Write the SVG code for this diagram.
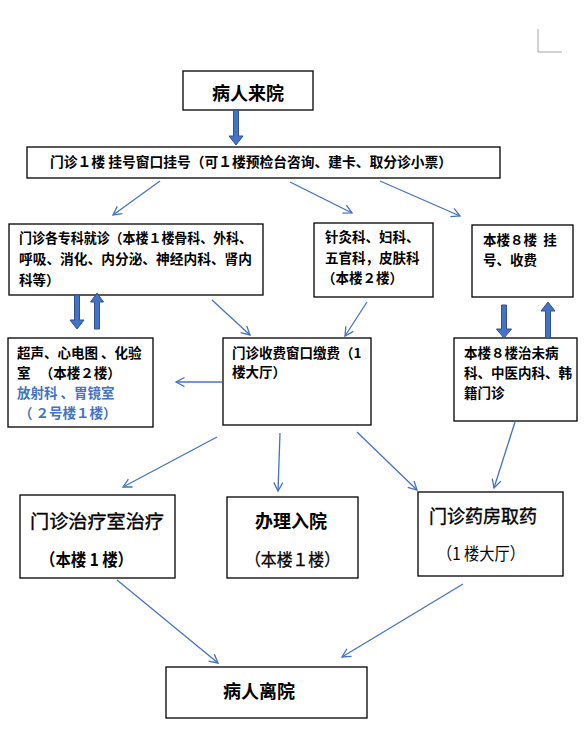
<svg xmlns="http://www.w3.org/2000/svg" width="584" height="746" viewBox="0 0 584 746">
<style>
.box{fill:#fff;stroke:#000;stroke-width:1.3}
.t{font-family:"Noto Sans CJK SC","Noto Sans",sans-serif;fill:#000;white-space:pre}
.b{font-weight:700}
.s{font-size:13.5px}
.m{font-size:18px;stroke:#000;stroke-width:0.35}
.blue{fill:#4472C4}
.ln{stroke:#4472C4;stroke-width:1.3;fill:none;marker-end:url(#ah)}
.blk{fill:#4472C4;stroke:#2F528F;stroke-width:1}
</style>
<defs>
<marker id="ah" markerUnits="userSpaceOnUse" markerWidth="12" markerHeight="12" refX="9" refY="5" orient="auto">
<path d="M0.5,0.5 L9,5 L0.5,9.5" fill="none" stroke="#4472C4" stroke-width="1.3"/>
</marker>
</defs>
<rect width="584" height="746" fill="#fff"/>
<polyline points="538,29 538,52 562,52" fill="none" stroke="#a6a6a6" stroke-width="1"/>

<g id="n-arrive">
<rect class="box" x="183" y="71" width="130" height="39"/>
<text class="t b" x="248" y="100" font-size="18" text-anchor="middle">病人来院</text>
</g>
<g id="n-register">
<rect class="box" x="27" y="147" width="473" height="31"/>
<text class="t b" x="50" y="167" font-size="14" textLength="402" lengthAdjust="spacingAndGlyphs">门诊１楼 挂号窗口挂号（可１楼预检台咨询、建卡、取分诊小票）</text>
</g>
<g id="n-specialty">
<rect class="box" x="9" y="224" width="254" height="71"/>
<text class="t b s" x="19" y="243" textLength="233" lengthAdjust="spacingAndGlyphs">门诊各专科就诊（本楼１楼骨科、外科、</text>
<text class="t b s" x="19" y="264" textLength="233" lengthAdjust="spacingAndGlyphs">呼吸、消化、内分泌、神经内科、肾内</text>
<text class="t b s" x="19" y="285">科等）</text>
</g>
<g id="n-acupuncture">
<rect class="box" x="314" y="223" width="119" height="74"/>
<text class="t b s" x="325" y="242">针灸科、妇科、</text>
<text class="t b s" x="325" y="263">五官科，皮肤科</text>
<text class="t b s" x="322" y="283">（本楼２楼）</text>
</g>
<g id="n-building8">
<rect class="box" x="472" y="225" width="101" height="72"/>
<text class="t b s" x="483" y="245" xml:space="preserve">本楼８楼  挂</text>
<text class="t b s" x="483" y="265">号、收费</text>
</g>
<g id="n-exam">
<rect class="box" x="8" y="338" width="145" height="89"/>
<text class="t b s" x="17" y="358" xml:space="preserve">超声、心电图 、化验</text>
<text class="t b s" x="17" y="378" xml:space="preserve">室   （本楼２楼）</text>
<text class="t b s blue" x="17" y="398" xml:space="preserve">放射科 、胃镜室</text>
<text class="t b s blue" x="19" y="418" xml:space="preserve">（ ２号楼１楼）</text>
</g>
<g id="n-pay">
<rect class="box" x="223" y="338" width="148" height="87"/>
<text class="t b s" x="232" y="358">门诊收费窗口缴费（1</text>
<text class="t b s" x="232" y="377">楼大厅）</text>
</g>
<g id="n-tcm">
<rect class="box" x="454" y="338" width="123" height="83"/>
<text class="t b s" x="464" y="358">本楼８楼治未病</text>
<text class="t b s" x="464" y="378">科、中医内科、韩</text>
<text class="t b s" x="464" y="398">籍门诊</text>
</g>
<g id="n-treat">
<rect class="box" x="20" y="495" width="155" height="83"/>
<text class="t m" x="30" y="528" textLength="134" lengthAdjust="spacingAndGlyphs">门诊治疗室治疗</text>
<text class="t b" x="40" y="566" font-size="17" textLength="93" lengthAdjust="spacingAndGlyphs" xml:space="preserve">（本楼 1 楼）</text>
</g>
<g id="n-admit">
<rect class="box" x="227" y="497" width="131" height="81"/>
<text class="t b" x="291" y="528" font-size="18" text-anchor="middle">办理入院</text>
<text class="t" x="245" y="566" font-size="17" stroke="#000" stroke-width="0.3" textLength="95" lengthAdjust="spacingAndGlyphs">（本楼１楼）</text>
</g>
<g id="n-pharmacy">
<rect class="box" x="418" y="492" width="145" height="84"/>
<text class="t m" x="429" y="523" textLength="108" lengthAdjust="spacingAndGlyphs">门诊药房取药</text>
<text class="t" x="437" y="560" font-size="17" textLength="88" lengthAdjust="spacingAndGlyphs" xml:space="preserve">（1 楼大厅）</text>
</g>
<g id="n-leave">
<rect class="box" x="166" y="667" width="201" height="51"/>
<text class="t b" x="259" y="698" font-size="18" text-anchor="middle">病人离院</text>
</g>

<g id="connectors">
<polygon class="blk" points="233.5,110 238.5,110 238.5,136 243,136 236,145 229,136 233.5,136"/>
<polygon class="blk" points="74.5,295 79.5,295 79.5,320 84,320 77,329 70,320 74.5,320"/>
<polygon class="blk" points="97,293 103.5,302 99.5,302 99.5,329 94.5,329 94.5,302 90.5,302"/>
<polygon class="blk" points="501.5,305 506.5,305 506.5,329 511.5,329 504,338 496.5,329 501.5,329"/>
<polygon class="blk" points="548,302 555,311 550.5,311 550.5,338 545.5,338 545.5,311 541,311"/>
<line class="ln" x1="160" y1="181" x2="113" y2="215"/>
<line class="ln" x1="290" y1="182" x2="352" y2="213"/>
<line class="ln" x1="380" y1="181" x2="460" y2="216"/>
<line class="ln" x1="212" y1="300" x2="250" y2="335"/>
<line class="ln" x1="367" y1="302" x2="345" y2="336"/>
<line class="ln" x1="222" y1="382" x2="176" y2="382"/>
<line class="ln" x1="217" y1="437" x2="123" y2="487"/>
<line class="ln" x1="280" y1="433" x2="278" y2="491"/>
<line class="ln" x1="357" y1="432" x2="417" y2="490"/>
<line class="ln" x1="515" y1="422" x2="494" y2="488"/>
<line class="ln" x1="117" y1="580" x2="218" y2="663"/>
<line class="ln" x1="463" y1="584" x2="342" y2="657"/>
</g>
</svg>
